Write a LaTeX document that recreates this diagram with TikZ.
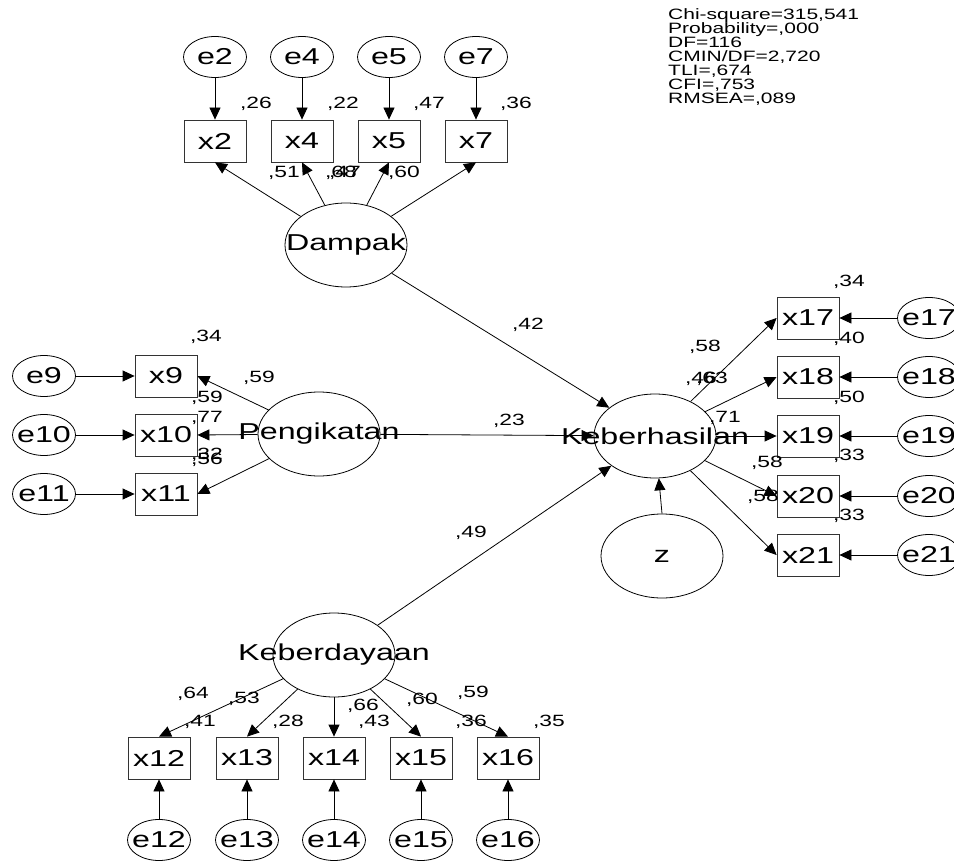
\documentclass[tikz,border=0pt]{standalone}
\usepackage{fontspec}
\usepackage{tikz}
\usetikzlibrary{arrows.meta,shapes.geometric}
\newfontfamily\amos[FakeStretch=1.4]{Liberation Sans}
\newcommand{\semfont}{\fontsize{23}{23}\amos}
\newcommand{\estfont}{\fontsize{16.3}{16.3}\amos}
\newcommand{\fitfont}{\fontsize{15}{14}\amos}
\newcommand{\nw}[1]{\makebox[0pt]{#1}}

\begin{document}
\begin{tikzpicture}[x=1pt,y=-1pt,
    latent/.style={draw,ellipse,line width=0.8pt,minimum width=122pt,minimum height=84pt,inner sep=0pt,font=\semfont},
    errvar/.style={draw,ellipse,line width=0.8pt,minimum width=63pt,minimum height=41pt,inner sep=0pt,font=\semfont},
    obsbox/.style={draw=black!80,rectangle,line width=0.8pt,minimum width=62pt,minimum height=42pt,inner sep=0pt,font=\semfont},
    est/.style={font=\estfont,inner sep=0pt},
    fitline/.style={font=\fitfont,anchor=base west,inner sep=0pt},
    path/.style={-{Triangle[length=12pt,width=11pt]},line width=0.8pt}]
  \clip (0,0) rectangle (954,861);
  % latent variables
  \node[latent] (Dampak) at (346,245) {\nw{Dampak}};
  \node[latent] (Pengikatan) at (319,434) {\nw{Pengikatan}};
  \node[latent] (Keberhasilan) at (655,436) {\nw{Keberhasilan}};
  \node[latent] (Keberdayaan) at (334,655) {\nw{Keberdayaan}};
  \node[latent] (z) at (662,556) {\nw{z}};
  % structural paths
  \draw[path] (Dampak) -- (Keberhasilan);
  \draw[path] (Pengikatan) -- (Keberhasilan);
  \draw[path] (Keberdayaan) -- (Keberhasilan);
  \draw[path] (z.north) -- (Keberhasilan);
  % indicators of Dampak
  \foreach \i/\x in {2/215,4/302,5/389,7/476}{
    \node[errvar] (e\i) at (\x,57) {\nw{e\i}};
    \node[obsbox] (x\i) at (\x,141) {x\i};
    \draw[path] (e\i) -- (x\i);
    \draw[path] (Dampak) -- (x\i.south);}
  % indicators of Pengikatan
  \foreach \i/\y in {9/376,10/435,11/494}{
    \node[errvar] (e\i) at (44,\y) {\nw{e\i}};
    \node[obsbox] (x\i) at (166,\y) {x\i};
    \draw[path] (e\i) -- (x\i);
    \draw[path] (Pengikatan) -- (x\i.east);}
  % indicators of Keberhasilan
  \foreach \i/\y in {17/318,18/377,19/436,20/496,21/555}{
    \node[obsbox] (x\i) at (808,\y) {x\i};
    \node[errvar] (e\i) at (929,\y) {\nw{e\i}};
    \draw[path] (e\i) -- (x\i);
    \draw[path] (Keberhasilan) -- (x\i.west);}
  % indicators of Keberdayaan
  \foreach \i/\x in {12/159,13/247,14/334,15/421,16/508}{
    \node[obsbox] (x\i) at (\x,758) {x\i};
    \node[errvar] (e\i) at (\x,840) {\nw{e\i}};
    \draw[path] (e\i) -- (x\i);
    \draw[path] (Keberdayaan) -- (x\i.north);}
  % estimates
  \foreach \v/\x/\y [count=\k] in {{,26}/256/104,{,22}/343/104,{,47}/429/104,{,36}/516/104,
      {,51}/284/173,{,68}/341/173,{,47}/345/173,{,60}/404/173,
      {,34}/206/337,{,59}/259/378,{,59}/207/398,{,77}/207/418,{,32}/207/455,{,56}/207/460,
      {,42}/528/325,{,23}/509/421,{,49}/471/533,
      {,34}/849/282,{,58}/705/347,{,46}/701/379,{,63}/712/379,{,40}/849/339,{,71}/725/418,
      {,50}/849/398,{,58}/767/463,{,33}/849/456,{,58}/763/497,{,33}/849/516,
      {,64}/193/694,{,53}/244/699,{,41}/200/722,{,28}/288/722,{,66}/363/706,
      {,43}/374/722,{,60}/422/700,{,59}/473/693,{,36}/471/722,{,35}/549/722}
    \node[est] (est\k) at (\x,\y) {\v};
  % fit indices
  \foreach \t [count=\k] in {{Chi-square=315,541},{Probability=,000},{DF=116},{CMIN/DF=2,720},
      {TLI=,674},{CFI=,753},{RMSEA=,089}}
    \node[fitline] (fit\k) at (668,{6+14*\k}) {\t};
\end{tikzpicture}
\end{document}
